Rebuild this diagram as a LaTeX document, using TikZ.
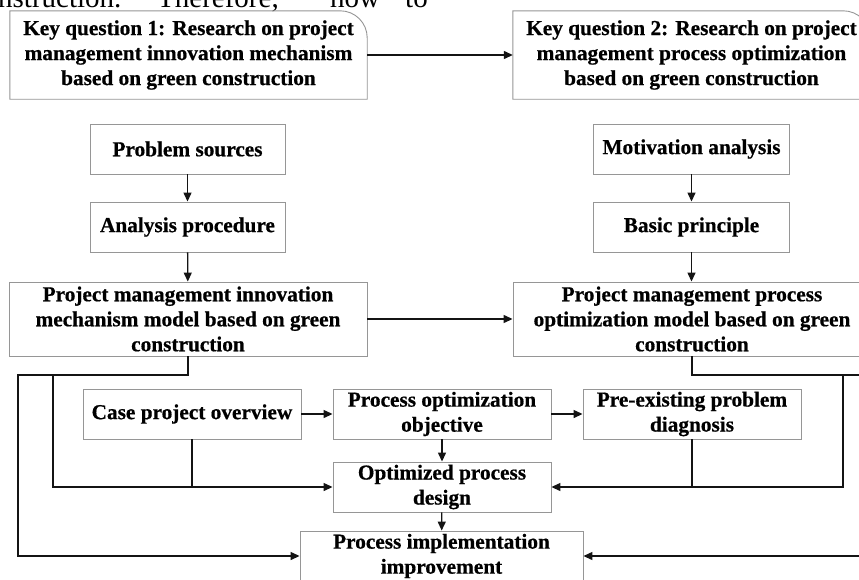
\documentclass[tikz,border=0pt]{standalone}
\usepackage{fontspec}
\setmainfont{Liberation Serif}[BoldFeatures={FakeBold=0.6}]
\usetikzlibrary{arrows.meta,calc}
\definecolor{boxgray}{RGB}{150,150,150}
\definecolor{linek}{RGB}{20,20,20}
\tikzset{
  box/.style={draw=boxgray,line width=0.9pt,rectangle,align=center,inner sep=0pt,
    font=\fontsize{21.3}{25}\selectfont\bfseries,text=black},
  plainbox/.style={rectangle,align=center,inner sep=0pt,
    font=\fontsize{21.3}{25}\selectfont\bfseries,text=black},
  conn/.style={draw=linek,line width=1.3pt},
  arr/.style={conn,-{Triangle[length=9pt,width=8pt]}},
  toptext/.style={font=\fontsize{29}{32}\selectfont,anchor=base west,inner sep=0pt}
}
\begin{document}
\begin{tikzpicture}[x=1pt,y=-1pt]
\useasboundingbox (0,0) rectangle (859,579);
\clip (0,0) rectangle (859,579);
\fill[white] (0,0) rectangle (859,579);
% clipped page text at top
\node[toptext] (t1) at (-2,7.5) {nstruction.};
\node[toptext] (t2) at (157,7.5) {Therefore,};
\node[toptext] (t3) at (330,7.5) {how};
\node[toptext] (t4) at (405,7.5) {to};
% key question boxes (rounded top-right corner)
\node[plainbox,minimum width=357pt,minimum height=88pt] (kq1) at (188.5,55)
  {Key question 1: Research on project\\management innovation mechanism\\based on green construction};
\node[plainbox,minimum width=357pt,minimum height=88pt] (kq2) at (691.5,55)
  {Key question 2: Research on project\\management process optimization\\based on green construction};
\foreach \n in {kq1,kq2}{
  \draw[draw=boxgray,line width=0.9pt] (\n.south west) -- (\n.north west)
    -- ($(\n.north east)+(-27,0)$) arc[start angle=90,end angle=0,radius=27pt]
    -- (\n.south east) -- cycle;
}
% left column
\node[box,minimum width=195pt,minimum height=50pt] (ps) at (187.5,149) {Problem sources};
\node[box,minimum width=195pt,minimum height=50pt] (ap) at (187.5,227) {Analysis procedure};
\node[box,minimum width=358pt,minimum height=74pt] (m1) at (188,319)
  {Project management innovation\\mechanism model based on green\\construction};
% right column
\node[box,minimum width=196pt,minimum height=50pt] (ma) at (691.5,149) {Motivation analysis};
\node[box,minimum width=196pt,minimum height=50pt] (bp) at (691.5,227) {Basic principle};
\node[box,minimum width=358pt,minimum height=74pt] (m2) at (692,319)
  {Project management process\\optimization model based on green\\construction};
% lower row
\node[box,minimum width=218pt,minimum height=50pt] (cpo) at (192,414) {Case project overview};
\node[box,minimum width=218pt,minimum height=50pt] (poo) at (442,414) {Process optimization\\objective};
\node[box,minimum width=218pt,minimum height=50pt] (ppd) at (692,414) {Pre-existing problem\\diagnosis};
\node[box,minimum width=218pt,minimum height=50pt] (opd) at (442,487) {Optimized process\\design};
\node[box,minimum width=283pt,minimum height=50pt] (pii) at (441.5,556) {Process implementation\\improvement};
% junction coordinates
\coordinate (l1) at (188,375);
\coordinate (lo) at (18,375);
\coordinate (li) at (53,375);
\coordinate (lob) at (18,556);
\coordinate (lib) at (53,487);
\coordinate (cj) at (192,487);
\coordinate (r1) at (692,375);
\coordinate (ri) at (843,375);
\coordinate (ro) at (872,375);
\coordinate (rib) at (843,487);
\coordinate (rob) at (872,556);
\coordinate (pj) at (692,487);
% connectors
\draw[arr] (kq1.east) -- (kq2.west);
\draw[arr] (ps) -- (ap);
\draw[arr] (ap) -- (m1);
\draw[arr] (ma) -- (bp);
\draw[arr] (bp.south) -- (bp.south |- m2.north);
\draw[arr] (m1) -- (m2);
\draw[arr] (m1.south) -- (l1) -- (lo) -- (lob) -- (pii.west);
\draw[arr] (li) -- (lib) -- (opd.west);
\draw[conn] (cpo.south) -- (cj);
\draw[arr] (cpo) -- (poo);
\draw[arr] (poo) -- (ppd);
\draw[arr] (poo) -- (opd);
\draw[arr] (opd) -- (pii);
\draw[arr] (m2.south) -- (r1) -- (ro) -- (rob) -- (pii.east);
\draw[arr] (ri) -- (rib) -- (opd.east);
\draw[conn] (ppd.south) -- (pj);
\end{tikzpicture}
\end{document}
